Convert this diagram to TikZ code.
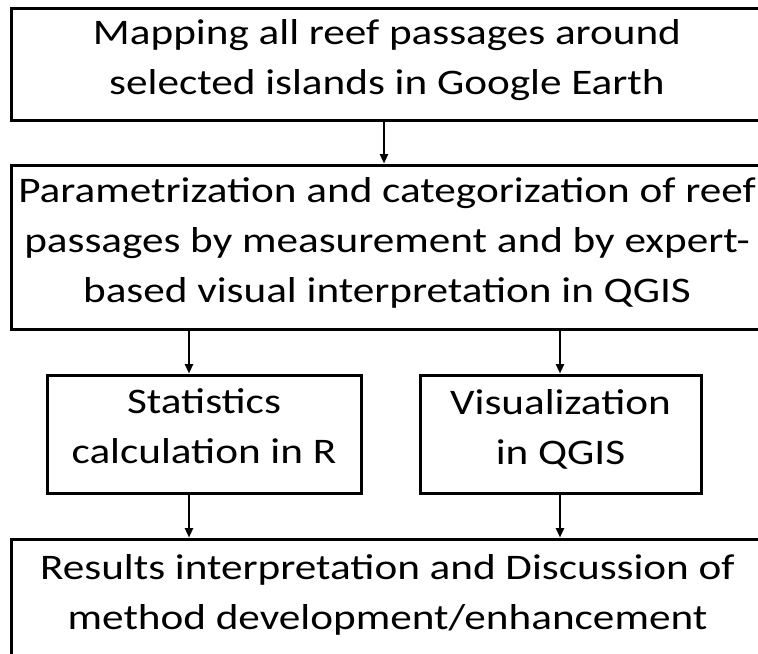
\documentclass[tikz,border=0pt]{standalone}
\usepackage{fontspec}
\setmainfont{Carlito}[FakeStretch=1.2]
\usetikzlibrary{arrows.meta}

\begin{document}
\begin{tikzpicture}[x=0.75pt, y=-0.75pt, >={Triangle[length=7pt, width=6pt]},
	stage/.style={draw, line width=2.25pt, align=center, inner sep=0pt,
		font=\fontsize{27}{37.5}\selectfont,
		execute at begin node=\strut, execute at end node=\strut},
	flow/.style={->, line width=1.5pt}]

\useasboundingbox (0,0) rectangle (758,654);
\clip (0,0) rectangle (758,654);

% ===== stages =====
\node[stage, minimum width=564pt, minimum height=84pt] (map) at (387,64)
	{Mapping all reef passages around\\selected islands in Google Earth};
\node[stage, minimum width=564pt, minimum height=123pt] (param) at (387,247)
	{Parametrization and categorization of reef\\passages by measurement and by expert-\\based visual interpretation in QGIS};
\node[stage, minimum width=235.5pt, minimum height=88.5pt] (stats) at (204,434)
	{Statistics\\calculation in R};
\node[stage, minimum width=210.75pt, minimum height=88.5pt] (vis) at (560.5,434)
	{Visualization\\in QGIS};
\node[stage, minimum width=564pt, minimum height=90pt] (res) at (387.5,599)
	{Results interpretation and Discussion of\\method development/enhancement};

% ===== arrows =====
\coordinate (left) at (189,0);
\coordinate (mid) at (384,0);
\coordinate (right) at (560,0);
\draw[flow] (map.south -| mid) -- (param.north -| mid);
\draw[flow] (param.south -| left) -- (stats.north -| left);
\draw[flow] (param.south -| right) -- (vis.north -| right);
\draw[flow] (stats.south -| left) -- (res.north -| left);
\draw[flow] (vis.south -| right) -- (res.north -| right);

\end{tikzpicture}
\end{document}
